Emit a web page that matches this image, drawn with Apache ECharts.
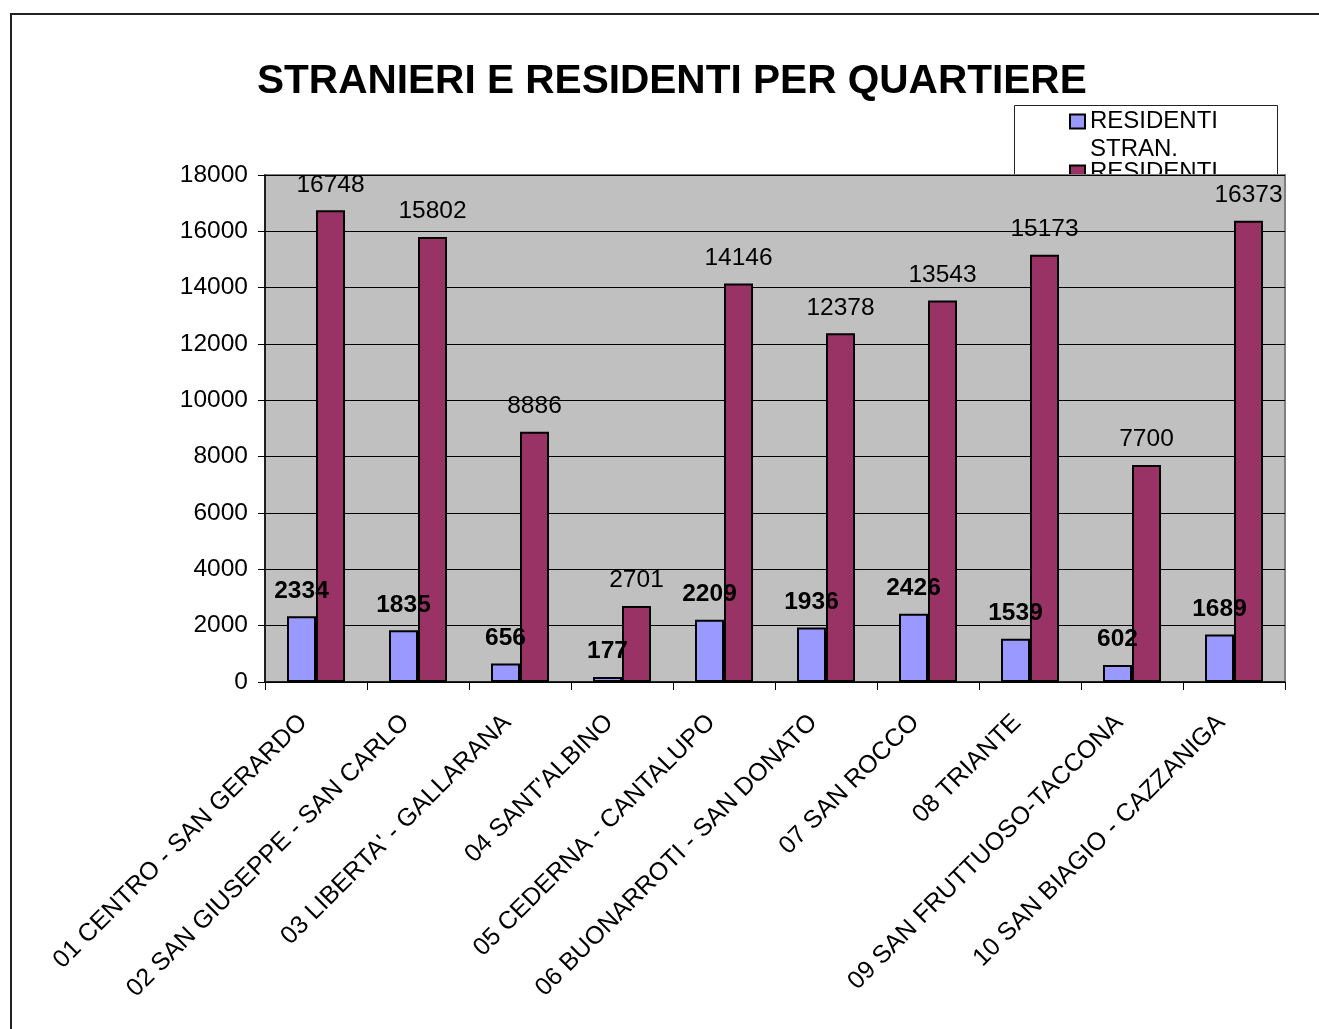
<!DOCTYPE html>
<html>
<head>
<meta charset="utf-8">
<script src="https://cdn.jsdelivr.net/npm/echarts@6/dist/echarts.min.js"></script>
<style>
html,body{margin:0;padding:0;background:#fff;}
#chart{width:1319px;height:1029px;}
</style>
</head>
<body>
<div id="chart"></div>
<script>
const categories = [
  '01 CENTRO - SAN GERARDO',
  '02 SAN GIUSEPPE - SAN CARLO',
  "03 LIBERTA' - GALLARANA",
  "04 SANT'ALBINO",
  '05 CEDERNA - CANTALUPO',
  '06 BUONARROTI - SAN DONATO',
  '07 SAN ROCCO',
  '08 TRIANTE',
  '09 SAN FRUTTUOSO-TACCONA',
  '10 SAN BIAGIO - CAZZANIGA'
];
const residentiStranieri = [2334, 1835, 656, 177, 2209, 1936, 2426, 1539, 602, 1689];
const residenti = [16748, 15802, 8886, 2701, 14146, 12378, 13543, 15173, 7700, 16373];
const seriesNames = ['RESIDENTI STRAN.', 'RESIDENTI'];
const titleText = 'STRANIERI E RESIDENTI PER QUARTIERE';

const FONT = "'Liberation Sans', Arial, sans-serif";
const chart = echarts.init(document.getElementById('chart'), null, {renderer: 'canvas'});

chart.setOption({
  animation: false,
  backgroundColor: '#ffffff',
  textStyle: {fontFamily: FONT},
  graphic: [
    {type: 'rect', z: 0, silent: true,
     shape: {x: 11, y: 14, width: 1400, height: 1100},
     style: {fill: '#ffffff', stroke: '#222', lineWidth: 2}},
    {type: 'rect', z: 0, silent: true,
     shape: {x: 1014.5, y: 105.5, width: 263, height: 80},
     style: {fill: '#ffffff', stroke: '#222', lineWidth: 1}}
  ],
  title: {
    text: titleText,
    left: 252,
    top: 56,
    padding: 5,
    textStyle: {fontFamily: FONT, fontSize: 40.6, fontWeight: 'bold', color: '#000'}
  },
  legend: {
    z: 1,
    orient: 'vertical',
    left: 1069,
    top: 79.5,
    padding: 0,
    itemGap: -5,
    itemWidth: 15,
    itemHeight: 14,
    icon: 'rect',
    selectedMode: false,
    formatter: function (n) { return n === 'RESIDENTI STRAN.' ? '\u00a0\nRESIDENTI\nSTRAN.' : n; },
    textStyle: {fontFamily: FONT, fontSize: 24, color: '#000', lineHeight: 28},
    data: seriesNames
  },
  grid: {
    z: 3,
    show: true,
    left: 265, top: 175, width: 1020, height: 507,
    backgroundColor: '#c0c0c0',
    borderColor: '#808080',
    borderWidth: 2,
    containLabel: false
  },
  xAxis: {
    type: 'category',
    z: 4,
    data: categories,
    axisLine: {show: true, lineStyle: {color: '#000', width: 1.5}},
    axisTick: {show: true, length: 8, lineStyle: {color: '#000', width: 1}},
    axisLabel: {
      interval: 0, rotate: 45, margin: 24,
      padding: [0, 18, 0, 0],
      fontFamily: FONT, fontSize: 25, color: '#000'
    },
    splitLine: {show: false}
  },
  yAxis: {
    type: 'value',
    z: 4,
    min: 0, max: 18000, interval: 2000,
    axisLine: {show: true, lineStyle: {color: '#000', width: 1.5}},
    axisTick: {show: true, length: 7, lineStyle: {color: '#000', width: 1}},
    axisLabel: {margin: 17, fontFamily: FONT, fontSize: 24.5, color: '#000',
      formatter: function (v) { return String(v); }},
    splitLine: {show: true, lineStyle: {color: '#000', width: 1}}
  },
  series: [
    {
      name: seriesNames[0],
      type: 'bar',
      z: 5,
      data: residentiStranieri,
      barWidth: 29,
      barGap: '0%',
      itemStyle: {color: '#9999ff', borderColor: '#000', borderWidth: 2},
      label: {show: true, position: 'top', distance: 13,
        fontFamily: FONT, fontSize: 24.5, fontWeight: 'bold', color: '#000'}
    },
    {
      name: seriesNames[1],
      type: 'bar',
      z: 5,
      data: residenti,
      barWidth: 29,
      barGap: '0%',
      itemStyle: {color: '#993366', borderColor: '#000', borderWidth: 2},
      label: {show: true, position: 'top', distance: 13,
        fontFamily: FONT, fontSize: 24.5, fontWeight: 'normal', color: '#000'}
    }
  ]
});
</script>
</body>
</html>
